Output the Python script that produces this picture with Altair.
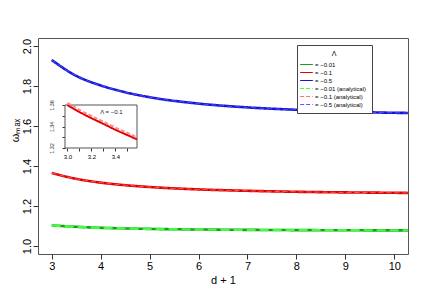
import altair as alt
import pandas as pd

# ---- data ----
x_main = [3, 3.5, 4, 4.5, 5, 6, 7, 8, 9, 10, 10.4]
green_num = [1.103, 1.096, 1.091, 1.088, 1.0855, 1.0825, 1.0807, 1.0795, 1.0787, 1.078, 1.078]
red_num = [1.365, 1.336, 1.317, 1.304, 1.295, 1.283, 1.276, 1.271, 1.268, 1.266, 1.265]
blue_num = [1.93, 1.851, 1.803, 1.769, 1.744, 1.712, 1.693, 1.681, 1.672, 1.666, 1.665]
green_ana = [1.103, 1.096, 1.091, 1.088, 1.0855, 1.0825, 1.0807, 1.0795, 1.0787, 1.078, 1.078]
red_ana = [1.365, 1.336, 1.317, 1.304, 1.295, 1.283, 1.276, 1.271, 1.268, 1.266, 1.265]
blue_ana = [1.93, 1.851, 1.803, 1.769, 1.744, 1.712, 1.693, 1.681, 1.672, 1.666, 1.665]

labels = ["= \u22120.01", "= \u22120.1", "= \u22120.5",
          "= \u22120.01 (analytical)", "= \u22120.1  (analytical)", "= \u22120.5 (analytical)"]
colors = ["#1f9a1f", "#e00000", "#1414d8", "#40ff40", "#ff7070", "#5a5aff"]
dashes = [[1, 0], [1, 0], [1, 0], [4, 2], [4, 2], [4, 2]]
main_dashes = [[1, 0], [1, 0], [1, 0], [9, 4], [5, 3], [5, 3]]

# inset (Λ = −0.1, zoomed)
x_inset = [3.0, 3.1, 3.2, 3.3, 3.4, 3.5, 3.58]
red_inset_num = [1.3600, 1.3535, 1.3478, 1.3425, 1.3370, 1.3320, 1.3280]
red_inset_ana = [1.3620, 1.3555, 1.3498, 1.3445, 1.3390, 1.3340, 1.3300]
inset_text = "\u039b = \u22120.1"

x_ticks = [3, 4, 5, 6, 7, 8, 9, 10]
y_ticks = [1.0, 1.2, 1.4, 1.6, 1.8, 2.0]
inset_x_ticks = [3.0, 3.1, 3.2, 3.3, 3.4, 3.5]
inset_y_ticks = [1.32, 1.33, 1.34, 1.35, 1.36]

# ---- tables ----
def long(labs, series):
    rows = []
    for lab, ys in zip(labs, series):
        for xv, yv in zip(x_main, ys):
            rows.append({"x": xv, "y": yv, "series": lab})
    return pd.DataFrame(rows)

df_num = long(labels[:3], [green_num, red_num, blue_num])
df_ana_g = long(labels[3:4], [green_ana])
df_ana_rb = long(labels[4:], [red_ana, blue_ana])

irows = []
for kind, ys in [("num", red_inset_num), ("ana", red_inset_ana)]:
    for xv, yv in zip(x_inset, ys):
        irows.append({"x": xv, "y": yv, "kind": kind})
dfi = pd.DataFrame(irows)

legend = alt.Legend(
    title="\u039b", orient="none", legendX=259, legendY=7,
    symbolType="M-1.7,0H1.7", symbolSize=56, symbolStrokeWidth=1.2,
    labelFontSize=6, titleFontSize=7, titleFontWeight="normal", titleColor="black",
    titleAnchor="middle", titleAlign="center", titlePadding=3,
    rowPadding=0, labelOffset=4, padding=5, offset=0,
    strokeColor="#444", fillColor="white", labelColor="black",
)

xs = alt.Scale(domain=[2.72, 10.28], nice=False, zero=False)
ys_ = alt.Scale(domain=[0.96, 2.04], nice=False, zero=False)

x_enc = alt.X("x:Q", scale=xs, axis=alt.Axis(
    values=x_ticks, format="d", title="d + 1", grid=False, domain=False,
    tickSize=5, tickColor="#333", labelPadding=1, labelFontSize=11,
    titleFontSize=11, titleFontWeight="normal", titlePadding=3,
    labelColor="black", titleColor="black"))
y_enc = alt.Y("y:Q", scale=ys_, axis=alt.Axis(
    values=y_ticks, format=".1f", title="\u03c9\u2098\u2090\u2093", grid=False,
    domain=False, tickSize=5, tickColor="#333", labelPadding=1,
    labelFontSize=11, labelAngle=270, labelAlign="center",
    labelBaseline="bottom", titleFontSize=11, titleFontWeight="normal",
    titleAngle=270, titleAlign="center", titleBaseline="middle",
    titleX=-23, titleY=92, labelColor="black", titleColor="black"))
c_enc = alt.Color("series:N", scale=alt.Scale(domain=labels, range=colors), legend=legend)
d_enc = alt.StrokeDash("series:N", scale=alt.Scale(domain=labels, range=dashes), legend=legend)

num = alt.Chart(df_num).mark_line(clip=True, interpolate="monotone", strokeWidth=2.6).encode(
    x=x_enc, y=y_enc, color=c_enc, strokeDash=d_enc)
ana_g = alt.Chart(df_ana_g).mark_line(clip=True, interpolate="monotone", strokeWidth=2.4,
                                      strokeDash=main_dashes[3]).encode(
    x=x_enc, y=y_enc, color=c_enc)
ana_rb = alt.Chart(df_ana_rb).mark_line(clip=True, interpolate="monotone", strokeWidth=0.8,
                                        strokeDash=main_dashes[4]).encode(
    x=x_enc, y=y_enc, color=c_enc)

main = alt.layer(num, ana_g, ana_rb)

ixs = alt.Scale(domain=[2.98, 3.58], range=[27, 99], nice=False, zero=False)
iys = alt.Scale(domain=[1.32, 1.36], range=[110, 67], nice=False, zero=False)

ix_axis = alt.Axis(orient="bottom", offset=-106, values=inset_x_ticks, title=None,
                   grid=False, domain=False, tickSize=3, tickColor="#333",
                   labelFontSize=6, labelPadding=2, labelColor="black",
                   labelExpr="round(datum.value*10) % 2 == 0 ? format(datum.value, '.1f') : ''")
iy_axis = alt.Axis(orient="left", offset=-27, values=inset_y_ticks, title=None,
                   grid=False, domain=False, tickSize=3, tickColor="#333",
                   labelFontSize=5.5, labelPadding=8, labelAngle=270, labelAlign="center",
                   labelBaseline="bottom", labelColor="#333",
                   labelExpr="round(datum.value*100) % 2 == 0 ? format(datum.value, '.2f') : ''")

frame = alt.Chart(pd.DataFrame({"a": [0]})).mark_rect(fill="white", stroke="#555", strokeWidth=1).encode(
    x=alt.X(datum=2.98, type="quantitative", scale=ixs, axis=ix_axis),
    x2=alt.datum(3.58),
    y=alt.Y(datum=1.32, type="quantitative", scale=iys, axis=iy_axis),
    y2=alt.datum(1.36),
)

iline = alt.Chart(dfi).mark_line(interpolate="monotone").encode(
    x=alt.X("x:Q", scale=ixs, axis=ix_axis),
    y=alt.Y("y:Q", scale=iys, axis=iy_axis),
    color=alt.Color("kind:N", scale=alt.Scale(domain=["num", "ana"], range=["#e00000", "#ff8a8a"]), legend=None),
    strokeDash=alt.StrokeDash("kind:N", scale=alt.Scale(domain=["num", "ana"], range=[[1, 0], [4, 2]]), legend=None),
)

itext = alt.Chart(pd.DataFrame({"t": [inset_text]})).mark_text(fontSize=6, color="#222").encode(
    x=alt.X(datum=3.367, type="quantitative", scale=ixs, axis=ix_axis),
    y=alt.Y(datum=1.3535, type="quantitative", scale=iys, axis=iy_axis),
    text="t:N",
)

inset = alt.layer(frame, iline, itext)

chart = alt.layer(main, inset).resolve_scale(
    x="independent", y="independent", color="independent", strokeDash="independent"
).properties(
    width=370, height=216,
    autosize=alt.AutoSizeParams(type="none"),
    padding={"left": 30, "top": 30, "right": 16, "bottom": 38},
).configure(font="Liberation Sans").configure_view(stroke="#555", strokeWidth=1)

chart.save("out.html", embed_options={"renderer": "svg", "actions": False})
